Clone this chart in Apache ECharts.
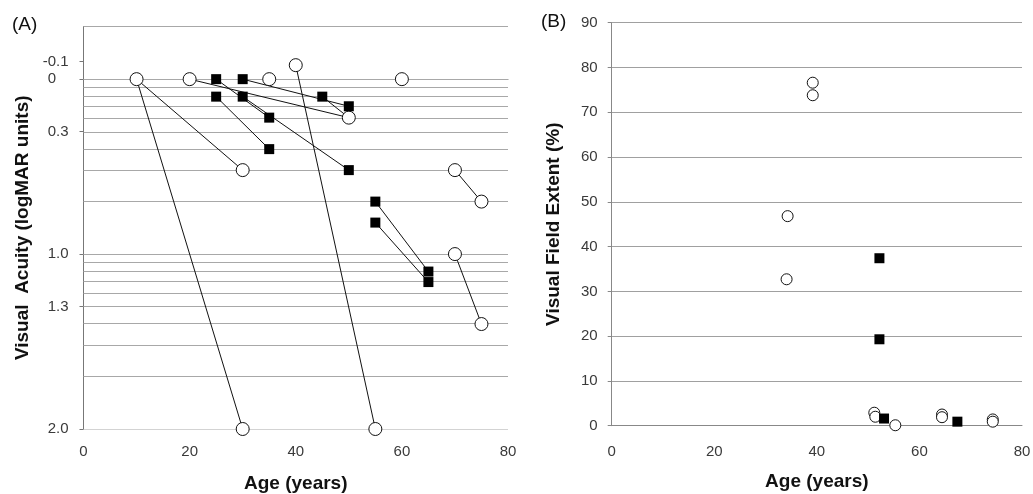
<!DOCTYPE html>
<html>
<head>
<meta charset="utf-8">
<script src="https://cdn.jsdelivr.net/npm/echarts@6/dist/echarts.min.js"></script>
<style>
html,body{margin:0;padding:0;background:#fff;}
#chart{width:1033px;height:494px;}
</style>
</head>
<body>
<div id="chart"></div>
<script>
// ---- Panel A: visual acuity (logMAR) vs age ----
const acuityTickValues = [-0.1, 0, 0.3, 1.0, 1.3, 2.0];
const acuityTickLabels = ['-0.1', '0', '0.3', '1.0', '1.3', '2.0'];
const acuityGridValues = [-0.301, 0, 0.046, 0.097, 0.155, 0.222, 0.301, 0.398, 0.523, 0.699,
                          1.0, 1.046, 1.097, 1.155, 1.222, 1.301, 1.398, 1.523, 1.699, 2.0];
const acuityCircles = [[10,0],[20,0],[35,0],[40,-0.08],[60,0],[50,0.22],[30,0.52],[70,0.52],
                       [75,0.70],[70,1.0],[75,1.40],[30,2.0],[55,2.0]];
const acuitySquares = [[25,0],[30,0],[25,0.1],[30,0.1],[45,0.1],[50,0.155],[35,0.22],[35,0.40],
                       [50,0.52],[55,0.70],[55,0.82],[65,1.10],[65,1.16]];
const acuityLinks = [
  [[10,0],[30,2.0]],
  [[10,0],[30,0.52]],
  [[20,0],[50,0.22]],
  [[25,0],[35,0.22]],
  [[30,0],[50,0.155]],
  [[45,0.1],[50,0.22]],
  [[25,0.1],[35,0.40]],
  [[30,0.1],[50,0.52]],
  [[40,-0.08],[55,2.0]],
  [[70,0.52],[75,0.70]],
  [[70,1.0],[75,1.40]],
  [[55,0.70],[65,1.10]],
  [[55,0.82],[65,1.16]]
];
const ageMin = 0, ageMax = 80;

// ---- Panel B: visual field extent (%) vs age ----
const fieldCircles = [[39.2,76.6],[39.2,73.8],[34.3,46.8],[34.1,32.7],[51.2,2.9],[51.4,2.0],
                      [55.3,0.1],[64.4,2.5],[64.4,1.9],[74.3,1.4],[74.3,0.9]];
const fieldSquares = [[52.2,37.4],[52.2,19.3],[53.1,1.6],[67.4,0.9]];

const FONT = 'Liberation Sans, Arial, sans-serif';
const chart = echarts.init(document.getElementById('chart'), null, {renderer: 'canvas'});

const labelStyle = {color: '#3a3a3a', fontSize: 15, fontFamily: FONT};
const nameStyle = {color: '#111', fontSize: 19, fontWeight: 'bold', fontFamily: FONT};

chart.setOption({
  animation: false,
  backgroundColor: '#fff',
  graphic: [
    {type: 'text', left: 12, top: 15, style: {text: '(A)', fontSize: 19, fontFamily: FONT, fill: '#111'}},
    {type: 'text', left: 541, top: 12, style: {text: '(B)', fontSize: 19, fontFamily: FONT, fill: '#111'}}
  ],
  grid: [
    {left: 83.5, top: 26.5, width: 424.5, height: 402.5, containLabel: false, outerBoundsMode: 'none'},
    {left: 611.7, top: 22.7, width: 410.3, height: 403, containLabel: false, outerBoundsMode: 'none'}
  ],
  xAxis: [
    {
      gridIndex: 0, type: 'value', min: ageMin, max: ageMax, interval: 20,
      name: 'Age (years)', nameLocation: 'middle', nameGap: 45, nameTextStyle: nameStyle,
      axisLine: {show: true, lineStyle: {color: '#888'}},
      axisTick: {show: false},
      axisLabel: Object.assign({margin: 15}, labelStyle),
      splitLine: {show: false}
    },
    {
      gridIndex: 1, type: 'value', min: ageMin, max: ageMax, interval: 20,
      name: 'Age (years)', nameLocation: 'middle', nameGap: 47, nameTextStyle: nameStyle,
      axisLine: {show: true, lineStyle: {color: '#888'}},
      axisTick: {show: false},
      axisLabel: Object.assign({margin: 19}, labelStyle),
      splitLine: {show: false}
    }
  ],
  yAxis: [
    {
      gridIndex: 0, type: 'value', inverse: true, min: -0.301, max: 2.0,
      name: 'Visual  Acuity (logMAR units)', nameLocation: 'middle', nameGap: 51, nameTextStyle: nameStyle,
      axisLine: {show: true, lineStyle: {color: '#777'}},
      axisTick: {show: true, length: 4, lineStyle: {color: '#777'}, customValues: acuityTickValues},
      axisLabel: Object.assign({
        margin: 15,
        customValues: acuityTickValues,
        formatter: function (v) {
          let best = 0;
          for (let i = 0; i < acuityTickValues.length; i++) {
            if (Math.abs(acuityTickValues[i] - v) < Math.abs(acuityTickValues[best] - v)) best = i;
          }
          const t = acuityTickLabels[best];
          return t === '0' ? '0   ' : t;
        }
      }, labelStyle),
      splitLine: {show: false}
    },
    {
      gridIndex: 1, type: 'value', min: 0, max: 90, interval: 10,
      name: 'Visual Field Extent (%)', nameLocation: 'middle', nameGap: 48, nameTextStyle: nameStyle,
      axisLine: {show: true, lineStyle: {color: '#888'}},
      axisTick: {show: true, length: 4, lineStyle: {color: '#888'}},
      axisLabel: Object.assign({margin: 14}, labelStyle),
      splitLine: {show: true, lineStyle: {color: '#a0a0a0', width: 1}}
    }
  ],
  series: [
    {
      type: 'lines', coordinateSystem: 'cartesian2d', xAxisIndex: 0, yAxisIndex: 0, z: 1, silent: true,
      lineStyle: {color: '#a8a8a8', width: 1, opacity: 1, curveness: 0},
      data: acuityGridValues.map(v => ({coords: [[ageMin, v], [ageMax, v]]}))
    },
    {
      type: 'lines', coordinateSystem: 'cartesian2d', xAxisIndex: 0, yAxisIndex: 0, z: 2, silent: true,
      lineStyle: {color: '#111', width: 1, opacity: 1, curveness: 0},
      data: acuityLinks.map(s => ({coords: s}))
    },
    {
      type: 'scatter', xAxisIndex: 0, yAxisIndex: 0, z: 3, silent: true,
      symbol: 'circle', symbolSize: 13,
      itemStyle: {color: '#fff', borderColor: '#111', borderWidth: 1, opacity: 1},
      data: acuityCircles
    },
    {
      type: 'scatter', xAxisIndex: 0, yAxisIndex: 0, z: 4, silent: true,
      symbol: 'rect', symbolSize: 10,
      itemStyle: {color: '#000', opacity: 1},
      data: acuitySquares
    },
    {
      type: 'scatter', xAxisIndex: 1, yAxisIndex: 1, z: 3, silent: true,
      symbol: 'circle', symbolSize: 11,
      itemStyle: {color: '#fff', borderColor: '#111', borderWidth: 1, opacity: 1},
      data: fieldCircles
    },
    {
      type: 'scatter', xAxisIndex: 1, yAxisIndex: 1, z: 4, silent: true,
      symbol: 'rect', symbolSize: 10,
      itemStyle: {color: '#000', opacity: 1},
      data: fieldSquares
    }
  ]
});
</script>
</body>
</html>
